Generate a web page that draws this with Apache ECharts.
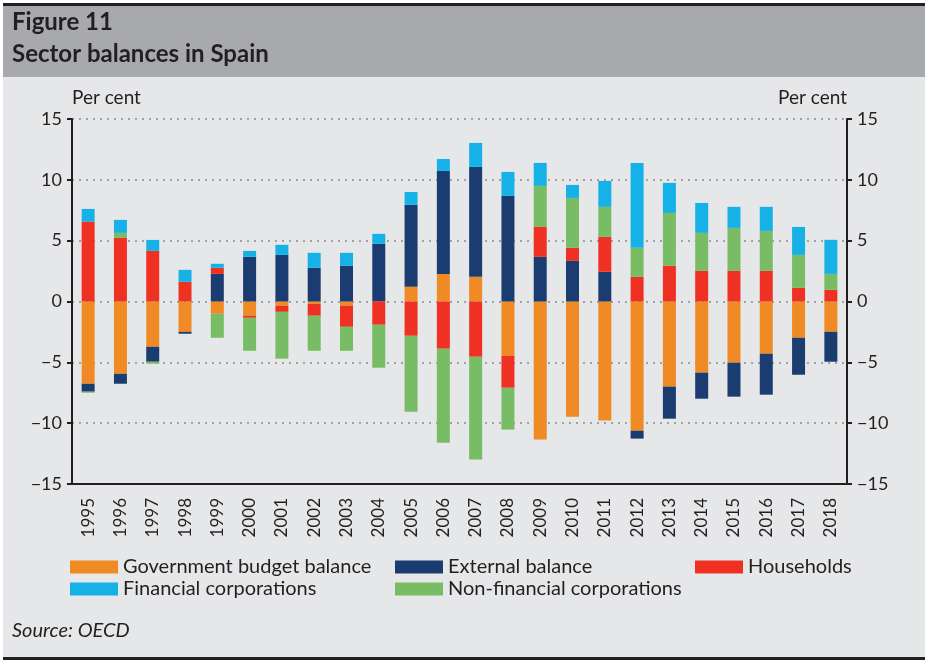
<!DOCTYPE html>
<html>
<head>
<meta charset="utf-8">
<script src="https://cdn.jsdelivr.net/npm/echarts@6/dist/echarts.min.js"></script>
<style>
html,body{margin:0;padding:0;background:#fff;}
#main{width:925px;height:660px;}
</style>
</head>
<body>
<div id="main"></div>
<script>
var years = ['1995','1996','1997','1998','1999','2000','2001','2002','2003','2004','2005','2006',
             '2007','2008','2009','2010','2011','2012','2013','2014','2015','2016','2017','2018'];
var govBalance = [-6.76,-5.94,-3.72,-2.49,-1.01,-1.17,-0.35,-0.19,-0.35,0,1.21,2.27,
                  2.03,-4.46,-11.35,-9.47,-9.79,-10.62,-7.0,-5.85,-5.03,-4.29,-2.98,-2.49];
var extBalance = [-0.65,-0.82,-1.23,-0.16,2.27,3.67,3.83,2.77,2.93,4.74,6.73,8.46,
                  9.03,8.68,3.67,3.34,2.44,-0.65,-2.63,-2.14,-2.79,-3.37,-3.04,-2.46];
var households = [6.57,5.23,4.16,1.62,0.5,-0.17,-0.5,-0.98,-1.73,-1.91,-2.82,-3.88,
                  -4.54,-2.63,2.46,1.07,2.87,2.03,2.93,2.52,2.52,2.52,1.12,0.96];
var nonFinCorp = [-0.09,0.41,-0.16,0,-1.97,-2.71,-3.85,-2.88,-1.97,-3.53,-6.24,-7.72,
                  -8.45,-3.44,3.37,4.1,2.47,2.38,4.35,3.12,3.53,3.28,2.71,1.31];
var finCorp = [1.04,1.07,0.9,0.98,0.33,0.49,0.83,1.23,1.07,0.82,1.06,0.98,
               1.97,1.97,1.89,1.07,2.13,6.98,2.47,2.46,1.73,1.98,2.3,2.8];
var yTicks = [-15,-10,-5,0,5,10,15];

var dark = '#231f20';
var font = 'Lato, "Open Sans", sans-serif';

function fmt(v){ return String(v).replace('-', '\u2212'); }

function bar(name, data, color){
    return {
        name: name,
        type: 'bar',
        stack: 'total',
        barWidth: 13,
        itemStyle: {color: color},
        data: data
    };
}

function yAxisCfg(pos){
    return {
        type: 'value',
        position: pos,
        min: yTicks[0],
        max: yTicks[yTicks.length-1],
        interval: 5,
        name: 'Per cent',
        nameLocation: 'end',
        nameGap: 12,
        nameTextStyle: {fontFamily: font, fontSize: 19, color: dark, align: pos === 'left' ? 'left' : 'right', padding: 0},
        axisLine: {show: true, lineStyle: {color: dark, width: 2}},
        axisTick: {show: true, length: 5, lineStyle: {color: dark, width: 2}},
        axisLabel: {fontFamily: font, fontSize: 18, color: dark, margin: 10, formatter: fmt},
        splitLine: {show: pos === 'left', lineStyle: {color: '#8a8a8a', width: 1.5, type: [2, 5]}}
    };
}

function legendCol(left, names){
    return {
        left: left, top: 557, orient: 'vertical', padding: 0,
        itemWidth: 48, itemHeight: 13, itemGap: 2, icon: 'rect',
        textStyle: {fontFamily: font, fontSize: 20, color: dark, lineHeight: 20},
        data: names
    };
}

var myChart = echarts.init(document.getElementById('main'));
var option = {
    backgroundColor: '#fff',
    animation: false,
    graphic: [
        {type: 'rect', z: -10, shape: {x: 3, y: 3, width: 922, height: 3}, style: {fill: dark}},
        {type: 'rect', z: -10, shape: {x: 3, y: 6, width: 922, height: 71}, style: {fill: '#a7a9ac'}},
        {type: 'rect', z: -10, shape: {x: 3, y: 77, width: 922, height: 580}, style: {fill: '#e6e7e8'}},
        {type: 'rect', z: -10, shape: {x: 3, y: 657, width: 922, height: 3}, style: {fill: dark}},
        {type: 'text', left: 12, top: 10, style: {text: 'Figure 11', fontFamily: font, fontWeight: 'bold', fontSize: 24, fill: dark}},
        {type: 'text', left: 12, top: 42, style: {text: 'Sector balances in Spain', fontFamily: font, fontWeight: 'bold', fontSize: 24, fill: dark}},
        {type: 'text', left: 12, top: 621, style: {text: 'Source: OECD', fontFamily: font, fontStyle: 'italic', fontSize: 20, fill: dark}}
    ],
    grid: {left: 72, right: 78, top: 119, bottom: 176},
    xAxis: [
        {
            type: 'category',
            data: years,
            position: 'bottom',
            axisLine: {show: true, onZero: false, lineStyle: {color: dark, width: 2}},
            axisTick: {length: 4, lineStyle: {color: dark, width: 2}},
            axisLabel: {rotate: 90, fontFamily: font, fontSize: 17, color: dark, margin: 14}
        },
        {
            type: 'category',
            data: years,
            position: 'bottom',
            axisLine: {show: true, onZero: false, lineStyle: {color: dark, width: 2}},
            axisTick: {inside: true, length: 4, lineStyle: {color: dark, width: 2}},
            axisLabel: {show: false}
        }
    ],
    yAxis: [yAxisCfg('left'), yAxisCfg('right')],
    legend: [
        legendCol(70, ['Government budget balance', 'Financial corporations']),
        legendCol(395, ['External balance', 'Non-financial corporations']),
        legendCol(695, ['Households'])
    ],
    series: [
        bar('Government budget balance', govBalance, '#f08a24'),
        bar('External balance', extBalance, '#1a3c70'),
        bar('Households', households, '#ef3124'),
        bar('Non-financial corporations', nonFinCorp, '#78bc66'),
        bar('Financial corporations', finCorp, '#16b2e7')
    ]
};
myChart.setOption(option);
</script>
</body>
</html>
